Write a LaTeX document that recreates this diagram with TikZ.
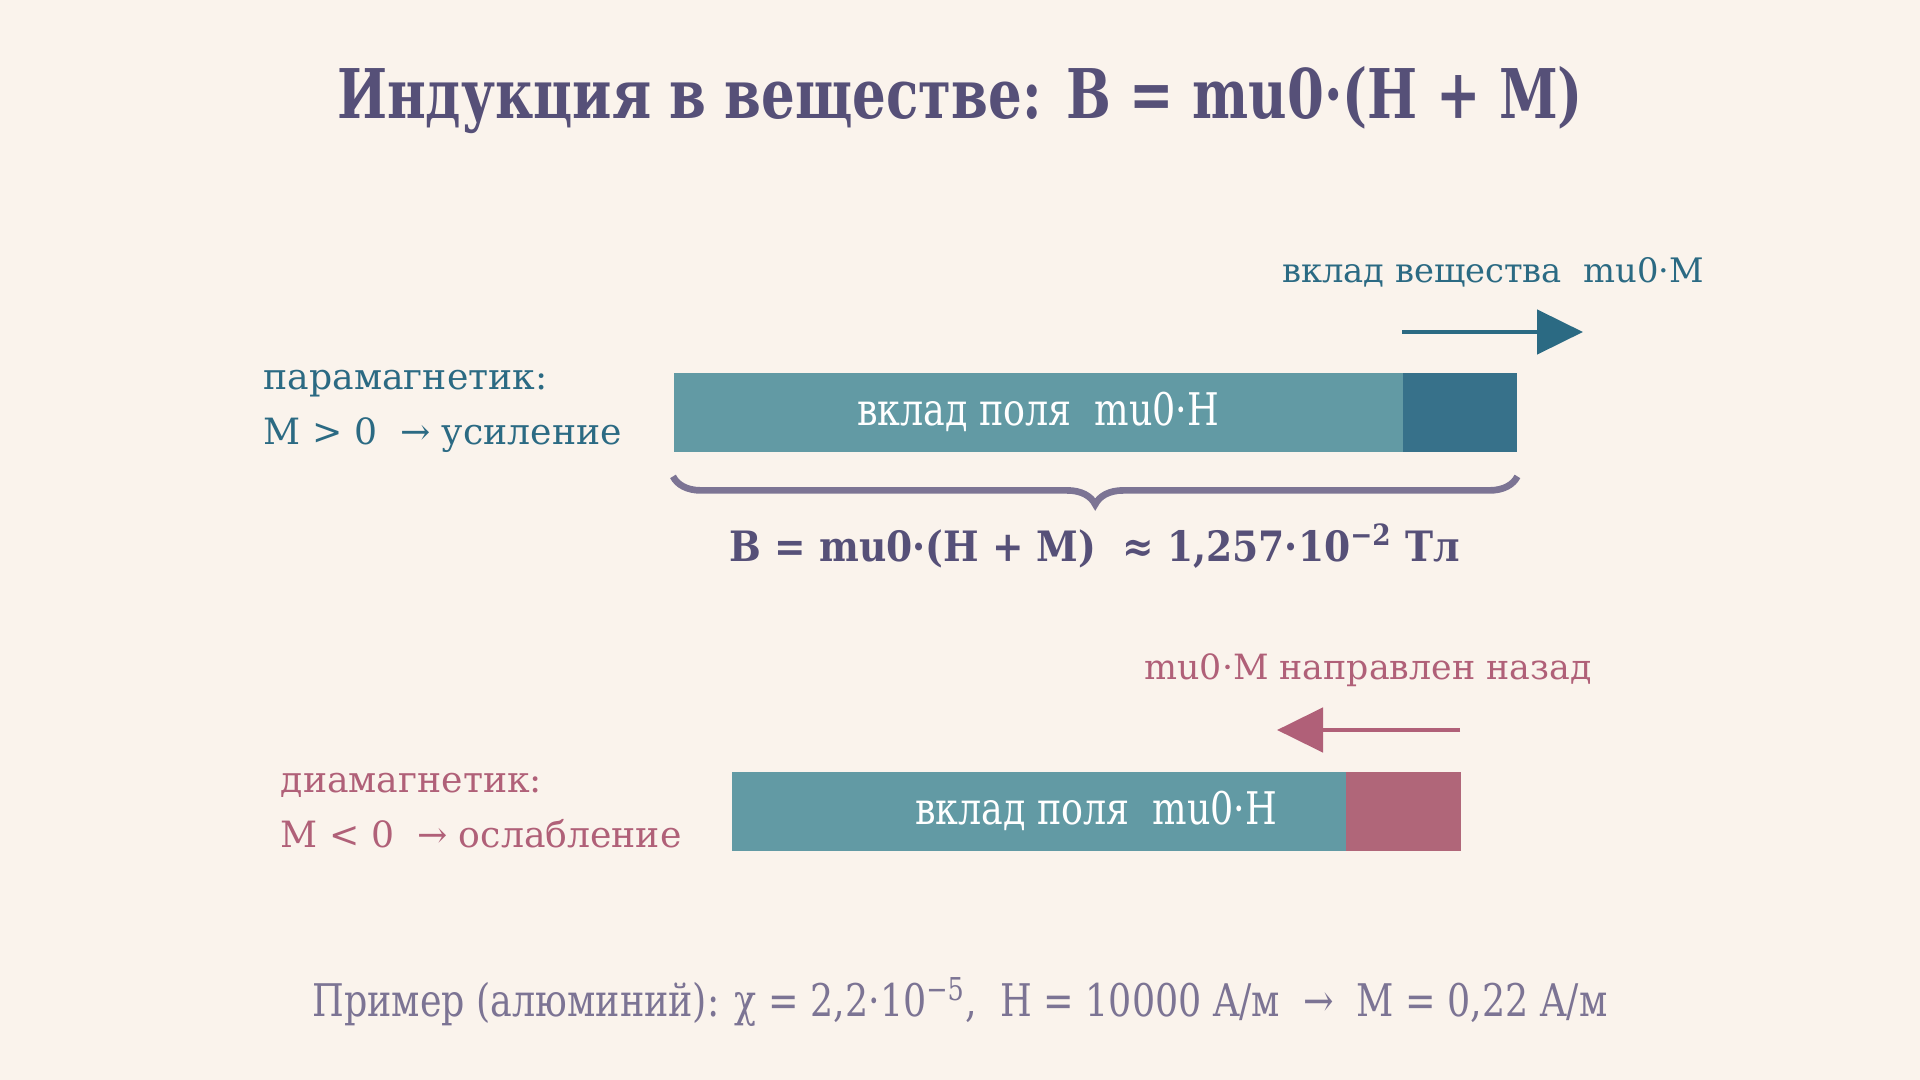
\documentclass[tikz,border=0pt]{standalone}
\usepackage{fontspec}
\usepackage{tikz}
\usetikzlibrary{arrows.meta,decorations.pathreplacing}
\setmainfont{DejaVu Serif}
\newfontfamily\condfont{DejaVu Serif Condensed}
\newfontfamily\titlefont[FakeStretch=0.86]{DejaVu Serif Condensed Bold}
\newfontfamily\narrowfont[FakeStretch=0.9]{DejaVu Serif Condensed}
\definecolor{bgcol}{HTML}{FAF3EC}
\definecolor{titlecol}{HTML}{565078}
\definecolor{paracol}{HTML}{2B6A83}
\definecolor{diacol}{HTML}{B06078}
\definecolor{fieldcol}{HTML}{629AA4}
\definecolor{paraseg}{HTML}{37718A}
\definecolor{diaseg}{HTML}{B06679}
\definecolor{bracecol}{HTML}{7C7494}

\begin{document}
\begin{tikzpicture}[
  every node/.style={inner sep=0pt},
  fieldbar/.style={fill=fieldcol, minimum height=0.79cm, anchor=north west},
  segbar/.style={minimum height=0.79cm, anchor=north west},
  barlabel/.style={text=white, font=\narrowfont\fontsize{12.8}{14}\selectfont},
  sidelabel/.style={align=left, anchor=west, font=\fontsize{10.3}{15.6}\selectfont},
  contrib/.style={line width=1.4pt, -{Triangle[length=0.46cm, width=0.44cm]}}
  ]
  \useasboundingbox (0,0) rectangle (19.2,-10.8);
  \fill [bgcol] (0,0) rectangle (19.2,-10.8);

  \node [text=titlecol, font=\titlefont\fontsize{19.5}{23}\selectfont] (title) at (9.6,-1.0)
    {Индукция в веществе: B = mu0·(H + M)};

  % paramagnet
  \node [sidelabel, text=paracol] (paralabel) at (2.63,-4.11) {парамагнетик:\\M > 0 \ → усиление};
  \node [fieldbar, minimum width=7.29cm] (parafield) at (6.73,-3.72) {};
  \node [barlabel] at (parafield.center) {вклад поля \ mu0·H};
  \node [segbar, fill=paraseg, minimum width=1.14cm] (paramag) at (14.02,-3.72) {};
  \coordinate (paratail) at (14.02,-3.32);
  \coordinate (parahead) at (15.83,-3.32);
  \draw [contrib, paracol] (paratail) -- (parahead);
  \node [text=paracol, font=\fontsize{9.6}{11}\selectfont] (paratext) at (14.93,-2.72) {вклад вещества \ mu0·M};
  \draw [bracecol, line width=1.9pt, decorate, decoration={brace, mirror, amplitude=0.28cm}]
    (parafield.south west) ++(0,-0.24) coordinate (bl) (paramag.south east) ++(0,-0.24) coordinate (br) (bl) -- (br);
  \node [text=titlecol, font=\condfont\bfseries\fontsize{11.9}{14}\selectfont] (total) at (10.95,-5.46)
    {B = mu0·(H + M) \ ≈ 1,257·10\textsuperscript{−2} Тл};

  % diamagnet
  \node [sidelabel, text=diacol] (dialabel) at (2.80,-8.11) {диамагнетик:\\M < 0 \ → ослабление};
  \node [fieldbar, minimum width=7.29cm] (diafield) at (7.31,-7.71) {};
  \node [barlabel] at (diafield.center) {вклад поля \ mu0·H};
  \node [segbar, fill=diaseg, minimum width=1.15cm] (diamag) at (13.45,-7.71) {};
  \coordinate (diatail) at (14.60,-7.30);
  \coordinate (diahead) at (12.77,-7.30);
  \draw [contrib, diacol] (diatail) -- (diahead);
  \node [text=diacol, font=\fontsize{9.9}{11}\selectfont] (diatext) at (13.68,-6.70) {mu0·M направлен назад};

  \node [text=bracecol, font=\narrowfont\fontsize{12.8}{15}\selectfont] (example) at (9.6,-10.02)
    {Пример (алюминий): χ = 2,2·10\textsuperscript{−5}, \ H = 10000 A/м \ → \ M = 0,22 A/м};
\end{tikzpicture}
\end{document}
